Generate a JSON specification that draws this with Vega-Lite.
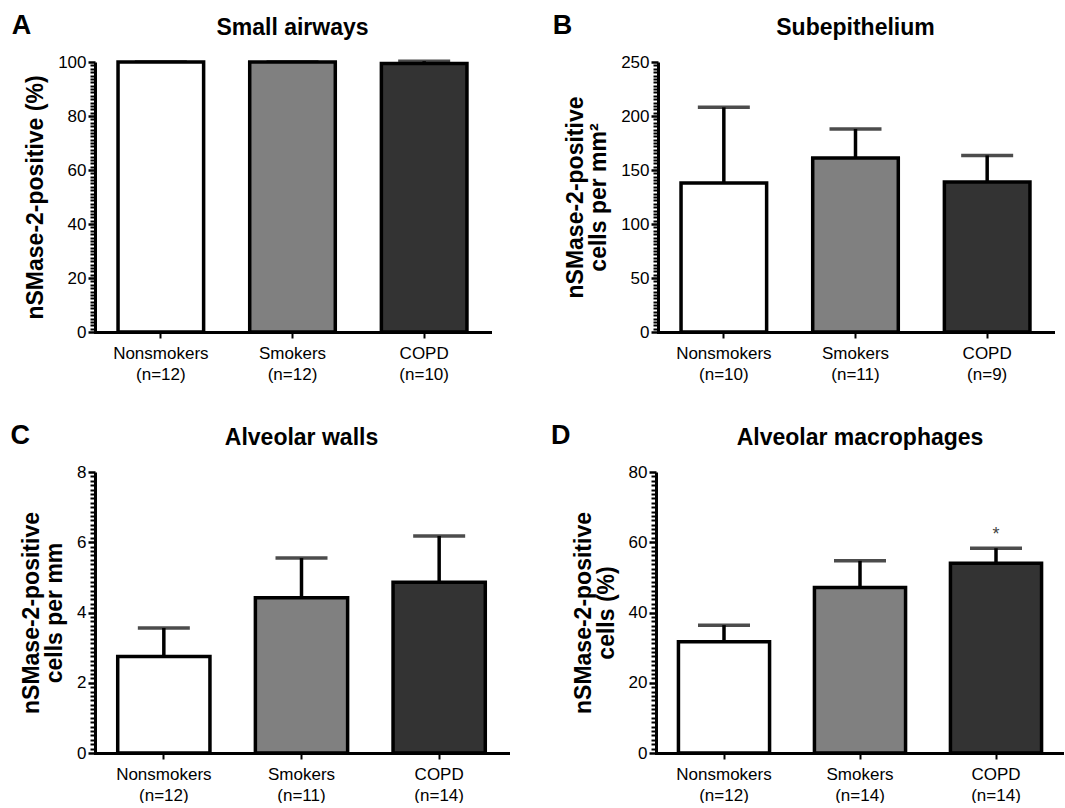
{
  "$schema": "https://vega.github.io/schema/vega-lite/v6.json",
  "background": "white",
  "padding": {"left": 10, "top": 12, "right": 0, "bottom": 0},
  "spacing": 40,
  "vconcat": [
    {
      "spacing": 62,
      "hconcat": [
        {
          "title": {"text": "A", "anchor": "start", "frame": "bounds", "dx": -13, "dy": 23, "fontSize": 27, "offset": 0},
          "vconcat": [
            {
              "title": "Small airways",
              "width": 395,
              "height": 270,
              "data": {"values": [
                {"cohort": "Nonsmokers", "label": "Nonsmokers (n=12)", "value": 100, "upper": 100},
                {"cohort": "Smokers", "label": "Smokers (n=12)", "value": 100, "upper": 100},
                {"cohort": "COPD", "label": "COPD (n=10)", "value": 99.4, "upper": 100.3}
              ]},
              "encoding": {
                "x": {"field": "label", "type": "nominal", "sort": null,
                  "scale": {"paddingInner": 0.35, "paddingOuter": 0.175},
                  "axis": {"title": null, "labelAngle": 0, "labelExpr": "[slice(datum.label, 0, indexof(datum.label, ' (')), slice(datum.label, indexof(datum.label, ' (') + 1)]"}},
                "y": {"field": "value", "type": "quantitative", "scale": {"domain": [0, 100], "nice": false},
                  "axis": {"title": "nSMase-2-positive (%)",
                    "values": [0,1.25,2.5,3.75,5,6.25,7.5,8.75,10,11.25,12.5,13.75,15,16.25,17.5,18.75,20,21.25,22.5,23.75,25,26.25,27.5,28.75,30,31.25,32.5,33.75,35,36.25,37.5,38.75,40,41.25,42.5,43.75,45,46.25,47.5,48.75,50,51.25,52.5,53.75,55,56.25,57.5,58.75,60,61.25,62.5,63.75,65,66.25,67.5,68.75,70,71.25,72.5,73.75,75,76.25,77.5,78.75,80,81.25,82.5,83.75,85,86.25,87.5,88.75,90,91.25,92.5,93.75,95,96.25,97.5,98.75,100],
                    "labelExpr": "datum.value % 20 === 0 ? format(datum.value, 'd') : ''",
                    "tickSize": {"condition": {"test": "datum.value % 20 === 0", "value": 7}, "value": 5},
                    "tickWidth": {"condition": {"test": "datum.value % 20 === 0", "value": 2.5}, "value": 2}}}
              },
              "layer": [
                {"mark": {"type": "rule", "color": "black", "strokeWidth": 3.5},
                 "encoding": {"y2": {"field": "upper"}}},
                {"mark": {"type": "tick", "orient": "horizontal", "size": 52, "thickness": 3.5, "color": "black"},
                 "encoding": {"y": {"field": "upper", "type": "quantitative"}}},
                {"mark": {"type": "bar", "stroke": "black", "strokeWidth": 3.5},
                 "encoding": {
                   "color": {"field": "cohort", "type": "nominal", "scale": {"domain": ["Nonsmokers", "Smokers", "COPD"], "range": ["#ffffff", "#808080", "#333333"]}, "legend": null}
                 }}
              ]
            }
          ]
        },
        {
          "title": {"text": "B", "anchor": "start", "frame": "bounds", "dx": -12, "dy": 23, "fontSize": 27, "offset": 0},
          "vconcat": [
            {
              "title": "Subepithelium",
              "width": 395,
              "height": 270,
              "data": {"values": [
                {"cohort": "Nonsmokers", "label": "Nonsmokers (n=10)", "value": 138, "upper": 208},
                {"cohort": "Smokers", "label": "Smokers (n=11)", "value": 161, "upper": 188},
                {"cohort": "COPD", "label": "COPD (n=9)", "value": 139, "upper": 163.5}
              ]},
              "encoding": {
                "x": {"field": "label", "type": "nominal", "sort": null,
                  "scale": {"paddingInner": 0.35, "paddingOuter": 0.175},
                  "axis": {"title": null, "labelAngle": 0, "labelExpr": "[slice(datum.label, 0, indexof(datum.label, ' (')), slice(datum.label, indexof(datum.label, ' (') + 1)]"}},
                "y": {"field": "value", "type": "quantitative", "scale": {"domain": [0, 250], "nice": false},
                  "axis": {"title": ["nSMase-2-positive", "cells per mm²"],
                    "values": [0,3.125,6.25,9.375,12.5,15.625,18.75,21.875,25,28.125,31.25,34.375,37.5,40.625,43.75,46.875,50,53.125,56.25,59.375,62.5,65.625,68.75,71.875,75,78.125,81.25,84.375,87.5,90.625,93.75,96.875,100,103.125,106.25,109.375,112.5,115.625,118.75,121.875,125,128.125,131.25,134.375,137.5,140.625,143.75,146.875,150,153.125,156.25,159.375,162.5,165.625,168.75,171.875,175,178.125,181.25,184.375,187.5,190.625,193.75,196.875,200,203.125,206.25,209.375,212.5,215.625,218.75,221.875,225,228.125,231.25,234.375,237.5,240.625,243.75,246.875,250],
                    "labelExpr": "datum.value % 50 === 0 ? format(datum.value, 'd') : ''",
                    "tickSize": {"condition": {"test": "datum.value % 50 === 0", "value": 7}, "value": 5},
                    "tickWidth": {"condition": {"test": "datum.value % 50 === 0", "value": 2.5}, "value": 2}}}
              },
              "layer": [
                {"mark": {"type": "rule", "color": "black", "strokeWidth": 3.5},
                 "encoding": {"y2": {"field": "upper"}}},
                {"mark": {"type": "tick", "orient": "horizontal", "size": 52, "thickness": 3.5, "color": "black"},
                 "encoding": {"y": {"field": "upper", "type": "quantitative"}}},
                {"mark": {"type": "bar", "stroke": "black", "strokeWidth": 3.5},
                 "encoding": {
                   "color": {"field": "cohort", "type": "nominal", "scale": {"domain": ["Nonsmokers", "Smokers", "COPD"], "range": ["#ffffff", "#808080", "#333333"]}, "legend": null}
                 }}
              ]
            }
          ]
        }
      ]
    },
    {
      "spacing": 43,
      "hconcat": [
        {
          "title": {"text": "C", "anchor": "start", "frame": "bounds", "dx": -10, "dy": 23, "fontSize": 27, "offset": 0},
          "vconcat": [
            {
              "title": "Alveolar walls",
              "width": 413,
              "height": 281,
              "data": {"values": [
                {"cohort": "Nonsmokers", "label": "Nonsmokers (n=12)", "value": 2.75, "upper": 3.56},
                {"cohort": "Smokers", "label": "Smokers (n=11)", "value": 4.42, "upper": 5.55},
                {"cohort": "COPD", "label": "COPD (n=14)", "value": 4.86, "upper": 6.18}
              ]},
              "encoding": {
                "x": {"field": "label", "type": "nominal", "sort": null,
                  "scale": {"paddingInner": 0.33, "paddingOuter": 0.165},
                  "axis": {"title": null, "labelAngle": 0, "labelExpr": "[slice(datum.label, 0, indexof(datum.label, ' (')), slice(datum.label, indexof(datum.label, ' (') + 1)]"}},
                "y": {"field": "value", "type": "quantitative", "scale": {"domain": [0, 8], "nice": false},
                  "axis": {"title": ["nSMase-2-positive", "cells per mm"],
                    "values": [0,0.125,0.25,0.375,0.5,0.625,0.75,0.875,1,1.125,1.25,1.375,1.5,1.625,1.75,1.875,2,2.125,2.25,2.375,2.5,2.625,2.75,2.875,3,3.125,3.25,3.375,3.5,3.625,3.75,3.875,4,4.125,4.25,4.375,4.5,4.625,4.75,4.875,5,5.125,5.25,5.375,5.5,5.625,5.75,5.875,6,6.125,6.25,6.375,6.5,6.625,6.75,6.875,7,7.125,7.25,7.375,7.5,7.625,7.75,7.875,8],
                    "labelExpr": "datum.value % 2 === 0 ? format(datum.value, 'd') : ''",
                    "tickSize": {"condition": {"test": "datum.value % 2 === 0", "value": 7}, "value": 5},
                    "tickWidth": {"condition": {"test": "datum.value % 2 === 0", "value": 2.5}, "value": 2}}}
              },
              "layer": [
                {"mark": {"type": "rule", "color": "black", "strokeWidth": 3.5},
                 "encoding": {"y2": {"field": "upper"}}},
                {"mark": {"type": "tick", "orient": "horizontal", "size": 52, "thickness": 3.5, "color": "black"},
                 "encoding": {"y": {"field": "upper", "type": "quantitative"}}},
                {"mark": {"type": "bar", "stroke": "black", "strokeWidth": 3.5},
                 "encoding": {
                   "color": {"field": "cohort", "type": "nominal", "scale": {"domain": ["Nonsmokers", "Smokers", "COPD"], "range": ["#ffffff", "#808080", "#333333"]}, "legend": null}
                 }}
              ]
            }
          ]
        },
        {
          "title": {"text": "D", "anchor": "start", "frame": "bounds", "dx": -21, "dy": 23, "fontSize": 27, "offset": 0},
          "vconcat": [
            {
              "title": "Alveolar macrophages",
              "width": 408,
              "height": 281,
              "data": {"values": [
                {"cohort": "Nonsmokers", "label": "Nonsmokers (n=12)", "value": 31.7, "upper": 36.4, "sig": ""},
                {"cohort": "Smokers", "label": "Smokers (n=14)", "value": 47.1, "upper": 54.7, "sig": ""},
                {"cohort": "COPD", "label": "COPD (n=14)", "value": 54.0, "upper": 58.3, "sig": "*"}
              ]},
              "encoding": {
                "x": {"field": "label", "type": "nominal", "sort": null,
                  "scale": {"paddingInner": 0.33, "paddingOuter": 0.165},
                  "axis": {"title": null, "labelAngle": 0, "labelExpr": "[slice(datum.label, 0, indexof(datum.label, ' (')), slice(datum.label, indexof(datum.label, ' (') + 1)]"}},
                "y": {"field": "value", "type": "quantitative", "scale": {"domain": [0, 80], "nice": false},
                  "axis": {"title": ["nSMase-2-positive", "cells (%)"],
                    "values": [0,1.25,2.5,3.75,5,6.25,7.5,8.75,10,11.25,12.5,13.75,15,16.25,17.5,18.75,20,21.25,22.5,23.75,25,26.25,27.5,28.75,30,31.25,32.5,33.75,35,36.25,37.5,38.75,40,41.25,42.5,43.75,45,46.25,47.5,48.75,50,51.25,52.5,53.75,55,56.25,57.5,58.75,60,61.25,62.5,63.75,65,66.25,67.5,68.75,70,71.25,72.5,73.75,75,76.25,77.5,78.75,80],
                    "labelExpr": "datum.value % 20 === 0 ? format(datum.value, 'd') : ''",
                    "tickSize": {"condition": {"test": "datum.value % 20 === 0", "value": 7}, "value": 5},
                    "tickWidth": {"condition": {"test": "datum.value % 20 === 0", "value": 2.5}, "value": 2}}}
              },
              "layer": [
                {"mark": {"type": "rule", "color": "black", "strokeWidth": 3.5},
                 "encoding": {"y2": {"field": "upper"}}},
                {"mark": {"type": "tick", "orient": "horizontal", "size": 52, "thickness": 3.5, "color": "black"},
                 "encoding": {"y": {"field": "upper", "type": "quantitative"}}},
                {"mark": {"type": "bar", "stroke": "black", "strokeWidth": 3.5},
                 "encoding": {
                   "color": {"field": "cohort", "type": "nominal", "scale": {"domain": ["Nonsmokers", "Smokers", "COPD"], "range": ["#ffffff", "#808080", "#333333"]}, "legend": null}
                 }},
                {"mark": {"type": "text", "fontSize": 18, "color": "#444444", "baseline": "alphabetic", "dy": -8},
                 "encoding": {"y": {"field": "upper", "type": "quantitative"}, "text": {"field": "sig"}}}
              ]
            }
          ]
        }
      ]
    }
  ],
  "config": {
    "font": "Liberation Sans",
    "view": {"stroke": null},
    "title": {"fontSize": 23, "fontWeight": "bold", "color": "black", "offset": 13, "font": "Liberation Sans"},
    "axis": {
      "grid": false,
      "domainColor": "black",
      "domainWidth": 3,
      "tickColor": "black",
      "tickWidth": 2,
      "labelColor": "black",
      "labelFontSize": 17,
      "labelFont": "Liberation Sans",
      "labelOverlap": false,
      "labelFlush": false,
      "titleFont": "Liberation Sans",
      "titleFontSize": 23,
      "titleFontWeight": "bold",
      "titleColor": "black",
      "titleLineHeight": 23
    },
    "axisY": {"labelPadding": 2, "titlePadding": 10},
    "axisX": {"tickSize": 6, "labelPadding": 7, "labelLineHeight": 21, "domainCap": "square"}
  }
}
